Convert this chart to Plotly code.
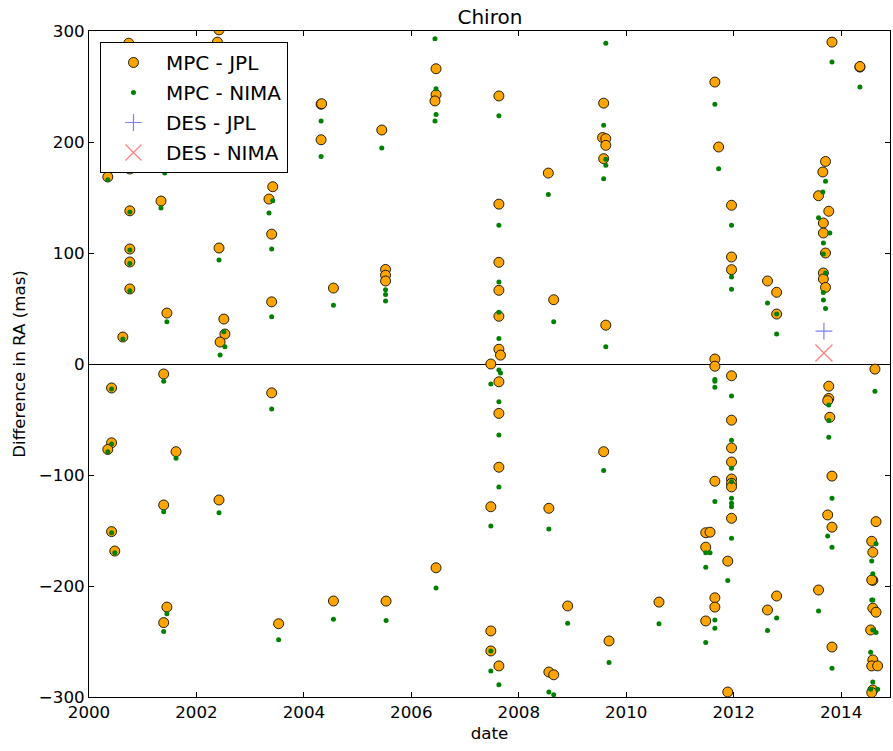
import plotly.graph_objects as go

# Chiron: RA residuals of MPC astrometry against the JPL and NIMA ephemerides
mpc_jpl_date = [
    2000.35, 2000.74, 2000.76, 2000.76, 2000.76, 2000.76, 2000.76, 2000.63,
    2000.42, 2000.42, 2000.35, 2000.42, 2000.48,
    2001.34, 2001.45, 2001.41, 2001.39, 2001.39, 2001.62, 2001.45, 2001.39,
    2002.42, 2002.39, 2002.42, 2002.51, 2002.53, 2002.44, 2002.42,
    2003.35, 2003.42, 2003.40, 2003.40, 2003.40, 2003.53,
    2004.32, 2004.33, 2004.32, 2004.55, 2004.55,
    2005.45, 2005.52, 2005.52, 2005.52, 2005.53,
    2006.46, 2006.46, 2006.44, 2006.46,
    2007.63, 2007.63, 2007.63, 2007.63, 2007.63, 2007.63, 2007.66, 2007.48,
    2007.63, 2007.63, 2007.63, 2007.48, 2007.48, 2007.48, 2007.63,
    2008.55, 2008.65, 2008.56, 2008.56, 2008.65, 2008.91,
    2009.58, 2009.56, 2009.62, 2009.62, 2009.58, 2009.62, 2009.58, 2009.68,
    2010.61,
    2011.65, 2011.72, 2011.96, 2011.96, 2011.96, 2011.65, 2011.65, 2011.96,
    2011.96, 2011.96, 2011.96, 2011.96, 2011.96, 2011.96, 2011.96, 2011.89,
    2011.65, 2011.48, 2011.56, 2011.48, 2011.65, 2011.65, 2011.48, 2011.89,
    2012.63, 2012.80, 2012.80, 2012.63, 2012.80,
    2013.83, 2013.71, 2013.66, 2013.58, 2013.77, 2013.67, 2013.67, 2013.71,
    2013.67, 2013.67, 2013.71, 2013.77, 2013.77, 2013.75, 2013.79, 2013.83,
    2013.75, 2013.83, 2013.58, 2013.83,
    2014.35, 2014.35,
    2014.63, 2014.65, 2014.57, 2014.59, 2014.59, 2014.57, 2014.59, 2014.65,
    2014.55, 2014.59, 2014.57, 2014.68, 2014.59, 2014.57,
]
mpc_jpl_ra = [
    168.5, 289.0, 175.7, 138.0, 103.6, 91.9, 67.6, 24.3,
    -21.6, -71.0, -77.0, -151.0, -168.5,
    146.8, 45.9, 177.0, -9.0, -127.0, -79.0, -219.0, -233.0,
    301.0, 290.0, 104.5, 40.5, 27.0, 19.8, -122.5,
    148.6, 159.7, 117.0, 56.0, -26.0, -234.0,
    234.0, 234.5, 202.0, 68.4, -213.5,
    210.8, 85.2, 80.0, 74.8, -213.6,
    266.0, 242.6, 237.0, -183.6,
    241.5, 144.0, 91.6, 66.4, 43.0, 13.3, 8.0, 0.0,
    -16.0, -44.5, -93.0, -128.6, -240.5, -258.5, -272.0,
    172.0, 57.9, -130.0, -277.5, -280.0, -218.0,
    235.0, 204.0, 203.0, 197.0, 185.0, 35.0, -79.0, -249.5,
    -214.5,
    254.0, 195.5, 143.0, 96.4, 85.0, 4.5, -2.0, -10.6,
    -50.6, -75.6, -88.3, -103.6, -107.5, -110.7, -139.0, -177.6,
    -105.6, -152.0, -151.5, -165.0, -210.6, -219.0, -231.5, -295.5,
    74.8, 64.6, 45.0, -221.6, -209.0,
    290.0, 182.5, 173.0, 151.6, 137.6, 127.0, 118.0, 100.0,
    82.0, 76.6, 69.0, -20.0, -31.0, -33.0, -48.0, -101.0,
    -136.0, -147.0, -203.6, -255.0,
    267.5, 268.0,
    -4.6, -142.0, -159.7, -169.6, -194.9, -194.6, -220.0, -223.6,
    -239.6, -266.6, -272.0, -272.0, -293.7, -296.0,
]

mpc_nima_date = [
    2000.35, 2000.76, 2000.76, 2000.76, 2000.76, 2000.76, 2000.63,
    2000.42, 2000.42, 2000.35, 2000.42, 2000.48,
    2001.34, 2001.45, 2001.41, 2001.39, 2001.39, 2001.62, 2001.45, 2001.39,
    2002.42, 2002.51, 2002.53, 2002.44, 2002.42,
    2003.35, 2003.42, 2003.40, 2003.40, 2003.40, 2003.53,
    2004.32, 2004.32, 2004.55, 2004.55,
    2005.45, 2005.52, 2005.52, 2005.52, 2005.53,
    2006.44, 2006.46, 2006.46, 2006.44, 2006.46,
    2007.63, 2007.63, 2007.63, 2007.63, 2007.63, 2007.63, 2007.66, 2007.48,
    2007.63, 2007.63, 2007.63, 2007.48, 2007.48, 2007.48, 2007.63,
    2008.55, 2008.65, 2008.56, 2008.56, 2008.65, 2008.91,
    2009.62, 2009.58, 2009.62, 2009.62, 2009.58, 2009.62, 2009.58, 2009.68,
    2010.61,
    2011.65, 2011.72, 2011.96, 2011.96, 2011.96, 2011.65, 2011.65, 2011.65,
    2011.96, 2011.96, 2011.96, 2011.96, 2011.96, 2011.96, 2011.96, 2011.96,
    2011.89, 2011.65, 2011.48, 2011.56, 2011.48, 2011.65, 2011.65, 2011.48,
    2012.63, 2012.80, 2012.80, 2012.63, 2012.80,
    2013.83, 2013.71, 2013.66, 2013.58, 2013.79, 2013.67, 2013.67, 2013.71,
    2013.67, 2013.67, 2013.71, 2013.77, 2013.77, 2013.77, 2013.83, 2013.75,
    2013.83, 2013.58, 2013.83,
    2014.35,
    2014.63, 2014.65, 2014.57, 2014.59, 2014.57, 2014.59, 2014.59, 2014.65,
    2014.55, 2014.59, 2014.55, 2014.68,
]
mpc_nima_ra = [
    166.0, 175.0, 137.0, 102.7, 90.5, 66.0, 22.5,
    -22.5, -72.0, -79.0, -152.0, -170.0,
    140.5, 38.0, 172.0, -15.5, -133.0, -85.0, -225.0, -241.0,
    93.7, 29.0, 15.6, 8.0, -134.0,
    136.0, 147.0, 103.6, 42.6, -40.6, -248.5,
    219.0, 187.0, 53.0, -230.0,
    194.6, 67.0, 62.6, 56.8, -231.0,
    293.0, 248.0, 224.7, 219.0, -201.8,
    223.7, 125.0, 73.9, 46.6, 23.0, -5.4, -8.0, -18.0,
    -34.0, -64.0, -110.8, -146.0, -258.6, -276.6, -289.0,
    152.6, 38.0, -148.6, -295.5, -298.0, -233.5,
    289.0, 215.0, 184.5, 179.0, 167.0, 15.6, -96.0, -269.0,
    -234.0,
    234.0, 176.0, 125.0, 78.4, 67.4, -14.0, -15.5, -21.0,
    -28.8, -68.8, -94.0, -106.0, -121.0, -125.5, -128.5, -157.0,
    -195.0, -123.8, -170.0, -170.0, -183.0, -230.6, -238.0, -251.0,
    55.0, 45.0, 27.0, -240.0, -228.8,
    272.0, 164.7, 155.0, 131.8, 118.0, 109.0, 99.0, 82.0,
    64.5, 57.7, 50.0, -37.0, -51.0, -66.0, -121.0, -155.0,
    -165.0, -222.6, -274.0,
    249.5,
    -24.5, -162.0, -177.5, -189.0, -212.6, -212.6, -239.6, -242.0,
    -259.6, -286.5, -293.0, -293.0,
]

des_jpl_date = [2013.68]
des_jpl_ra = [29.7]
des_nima_date = [2013.68]
des_nima_ra = [9.9]

x_ticks = [2000, 2002, 2004, 2006, 2008, 2010, 2012, 2014]
y_ticks = [-300, -200, -100, 0, 100, 200, 300]

FONT = "DejaVu Sans"

fig = go.Figure()
fig.add_trace(go.Scatter(
    x=mpc_jpl_date, y=mpc_jpl_ra, mode="markers", name="MPC - JPL",
    legendgroup="a",
    marker=dict(symbol="circle", size=10, color="#ffa500",
                line=dict(color="rgba(0,0,0,0.85)", width=1)),
))
fig.add_trace(go.Scatter(
    x=mpc_nima_date, y=mpc_nima_ra, mode="markers", name="MPC - NIMA",
    legendgroup="b",
    marker=dict(symbol="circle", size=5, color="#008000",
                line=dict(color="#008000", width=0)),
))
fig.add_trace(go.Scatter(
    x=des_jpl_date, y=des_jpl_ra, mode="markers", name="DES - JPL",
    legendgroup="c",
    marker=dict(symbol="cross-thin", size=12, color="rgba(40,40,255,0.6)",
                line=dict(color="rgba(40,40,255,0.6)", width=1.2)),
))
fig.add_trace(go.Scatter(
    x=des_nima_date, y=des_nima_ra, mode="markers", name="DES - NIMA",
    legendgroup="d",
    marker=dict(symbol="x-thin", size=17, color="rgba(255,0,0,0.5)",
                line=dict(color="rgba(255,0,0,0.5)", width=1.2)),
))

axis_common = dict(
    showline=True, linecolor="black", linewidth=1, mirror="ticks",
    ticks="inside", ticklen=5, tickcolor="black", tickwidth=1,
    showgrid=False, tickfont=dict(family=FONT, size=16.7, color="black"),
    title_font=dict(family=FONT, size=16.7, color="black"),
)

fig.update_xaxes(
    range=[2000, 2014.91], tickvals=x_ticks,
    ticktext=[str(t) for t in x_ticks], zeroline=False,
    title_text="date", title_standoff=6, **axis_common,
)
fig.update_yaxes(
    range=[-300, 300], tickvals=y_ticks,
    ticktext=[str(t).replace("-", "\u2212") for t in y_ticks],
    zeroline=True, zerolinecolor="black", zerolinewidth=1,
    title_text="Difference in RA (mas)", title_standoff=8, **axis_common,
)

fig.update_layout(
    width=893, height=751,
    margin=dict(l=89, r=3, t=31, b=54),
    paper_bgcolor="white", plot_bgcolor="white",
    font=dict(family=FONT, color="black"),
    title=dict(text="Chiron", x=0.5486, xanchor="center",
               y=1 - 17 / 751, yanchor="middle", yref="container",
               font=dict(family=FONT, size=20, color="black")),
    legend=dict(
        x=0.0137, y=0.9835, xanchor="left", yanchor="top",
        bgcolor="white", bordercolor="black", borderwidth=1,
        font=dict(family=FONT, size=20, color="black"),
        tracegroupgap=1, itemwidth=55,
    ),
    showlegend=True,
)

fig.write_html("out.html")
